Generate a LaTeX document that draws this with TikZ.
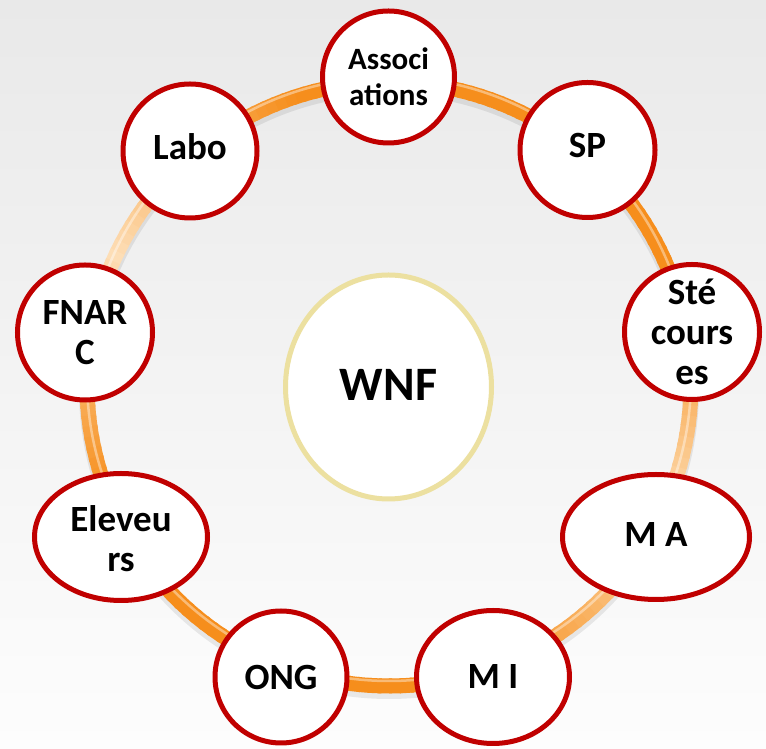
\documentclass[tikz,border=0pt]{standalone}
\usepackage{fontspec}
\setmainfont{Carlito}
\usetikzlibrary{calc,shapes.geometric}
\definecolor{rimred}{RGB}{192,0,0}
\definecolor{hubrim}{RGB}{236,224,160}
\definecolor{tubedeep}{RGB}{246,142,28}
\definecolor{tubepale}{RGB}{253,222,182}
\definecolor{bgtop}{RGB}{233,233,233}
\definecolor{bgbottom}{RGB}{253,253,253}
\begin{document}
\begin{tikzpicture}[x=1pt,y=1pt,
  bubble/.style={shape=ellipse, draw=rimred, line width=5pt, fill=white, inner sep=0pt},
  hub/.style={shape=ellipse, draw=hubrim, line width=5pt, fill=white, inner sep=0pt},
  lbl/.style={font=\bfseries\fontsize{37}{40}\selectfont, align=center, inner sep=0pt}]
\useasboundingbox (0,0) rectangle (766,749);
% backdrop
\shade[top color=bgtop, bottom color=bgbottom] (0,0) rectangle (766,749);

% ring: soft shadow, tinted tube, top highlight
\coordinate (ring) at (389,365);
\draw[black, opacity=0.08, line width=16pt] ($(ring)+(0,-5)$) circle[radius=302];
\foreach \a in {0,2,...,358}{
  \pgfmathsetmacro\mixval{min(100,135*abs(sin(\a+1-155)))}
  \colorlet{segc}{tubedeep!\mixval!tubepale}
  \draw[segc, line width=15pt] (ring) ++(\a:302) arc[start angle=\a, end angle=\a+2.6, radius=302];
}
\draw[white, opacity=0.4, line width=2.5pt] ($(ring)+(0,5)$) circle[radius=302];

% centre
\node[hub, minimum width=206pt, minimum height=224pt] (wnf-b) at (388.5,362) {};
\node[lbl, font=\bfseries\fontsize{48}{52}\selectfont] (wnf) at ($(wnf-b)+(0,2)$) {WNF};

% satellites
\node[bubble, minimum width=132pt, minimum height=132pt] (assoc-b) at (388.5,672) {};
\node[lbl, font=\bfseries\fontsize{31}{36}\selectfont] (assoc) at (assoc-b) {Associ\\ations};

\node[bubble, minimum width=134pt, minimum height=134pt] (labo-b) at (190,598) {};
\node[lbl] (labo) at ($(labo-b)+(0,4)$) {Labo};

\node[bubble, minimum width=135pt, minimum height=135pt] (sp-b) at (587.5,599) {};
\node[lbl] (sp) at ($(sp-b)+(0,4)$) {SP};

\node[bubble, minimum width=135pt, minimum height=135pt] (ste-b) at (692,417) {};
\node[lbl] (ste) at (ste-b) {Sté\\cours\\es};

\node[bubble, minimum width=135pt, minimum height=135pt] (fnarc-b) at (85,416.5) {};
\node[lbl] (fnarc) at (fnarc-b) {FNAR\\C};

\node[bubble, minimum width=173pt, minimum height=127pt] (elev-b) at (121,212) {};
\node[lbl] (elev) at ($(elev-b)+(0,-2)$) {Eleveu\\rs};

\node[bubble, minimum width=187pt, minimum height=125pt] (ma-b) at (656,212) {};
\node[lbl] (ma) at ($(ma-b)+(0,2)$) {M A};

\node[bubble, minimum width=132pt, minimum height=132pt] (ong-b) at (281,72) {};
\node[lbl] (ong) at (ong-b) {ONG};

\node[bubble, minimum width=153pt, minimum height=133pt] (mi-b) at (493,72) {};
\node[lbl] (mi) at (mi-b) {M I};
\end{tikzpicture}
\end{document}
